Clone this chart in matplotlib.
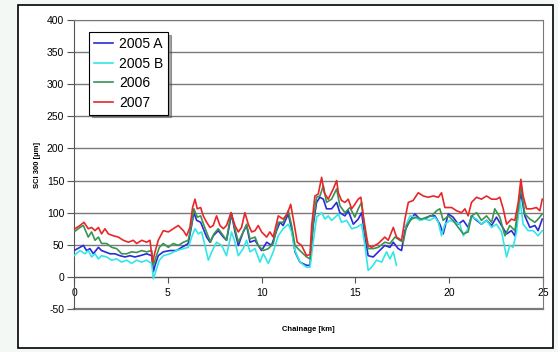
import numpy as np
import matplotlib.pyplot as plt
from matplotlib.patches import Rectangle

plt.rcParams['font.family'] = ['Liberation Sans', 'DejaVu Sans']
plt.rcParams['axes.unicode_minus'] = False

# chainage [km] and SCI 300 [µm] readings per survey
km_2005a = [0.00, 0.32, 0.50, 0.67, 0.85, 1.03, 1.30, 1.47, 1.65, 1.92, 2.18, 2.45, 2.72, 2.98,
            3.25, 3.52, 3.87, 4.14, 4.23, 4.32, 4.49, 4.76, 5.12, 5.47, 5.74, 5.92, 6.09, 6.27,
            6.39, 6.54, 6.75, 6.89, 7.07, 7.25, 7.42, 7.69, 7.96, 8.13, 8.40, 8.58, 8.76, 9.02,
            9.20, 9.38, 9.65, 9.82, 10.00, 10.27, 10.53, 10.80, 10.98, 11.15, 11.42, 11.60, 11.78,
            12.04, 12.40, 12.58, 12.75, 12.93, 13.11, 13.29, 13.46, 13.73, 14.00, 14.17, 14.44,
            14.62, 14.89, 15.15, 15.33, 15.51, 15.68, 15.95, 16.22, 16.57, 16.84, 17.02, 17.28,
            17.46, 17.64, 17.91, 18.17, 18.44, 18.70, 18.97, 19.24, 19.50, 19.68, 19.95, 20.21,
            20.48, 20.75, 21.01, 21.19, 21.46, 21.72, 21.99, 22.26, 22.52, 22.79, 23.06, 23.32,
            23.50, 23.68, 23.82, 24.03, 24.30, 24.57, 24.74, 24.96]
sci_2005a = [41, 46, 49, 41, 44, 36, 46, 41, 39, 36, 36, 33, 31, 33,
             31, 33, 36, 33, 8, 18, 33, 39, 41, 41, 46, 49, 52, 80,
             100, 88, 85, 75, 62, 54, 64, 72, 62, 57, 98, 70, 49, 70,
             80, 54, 57, 49, 41, 54, 49, 72, 85, 80, 98, 75, 39,
             23, 18, 18, 80, 116, 124, 121, 106, 106, 116, 100, 95,
             103, 82, 90, 100, 62, 33, 31, 39, 49, 46, 54, 44,
             41, 72, 88, 98, 90, 90, 95, 95, 82, 67, 98, 93,
             82, 88, 77, 95, 88, 82, 88, 80, 93, 80, 67, 72,
             64, 100, 131, 95, 77, 80, 72, 90]

km_2005b = [0.00, 0.32, 0.59, 0.76, 0.94, 1.12, 1.30, 1.47, 1.74, 2.01, 2.27, 2.54, 2.81, 3.07,
            3.34, 3.61, 3.87, 4.14, 4.23, 4.37, 4.55, 4.76, 5.12, 5.47, 5.83, 6.09, 6.27, 6.45,
            6.63, 6.80, 6.98, 7.16, 7.34, 7.60, 7.87, 8.13, 8.40, 8.58, 8.76, 9.02, 9.20, 9.38,
            9.65, 9.91, 10.09, 10.36, 10.62, 10.89, 11.15, 11.42, 11.60, 11.78, 12.04, 12.40,
            12.58, 12.75, 12.93, 13.20, 13.38, 13.55, 13.73, 14.00, 14.09, 14.26, 14.53, 14.80,
            15.06, 15.33, 15.51, 15.68, 15.86, 16.13, 16.40, 16.66, 16.84, 17.02, 17.19, 17.40,
            17.64, 17.91, 18.17, 18.44, 18.70, 18.97, 19.24, 19.42, 19.59, 19.77, 20.04, 20.30,
            20.57, 20.75, 21.01, 21.19, 21.46, 21.72, 21.99, 22.26, 22.52, 22.79, 23.06, 23.23,
            23.41, 23.59, 23.77, 23.94, 24.21, 24.48, 24.74, 24.96]
sci_2005b = [33, 41, 36, 41, 31, 36, 28, 33, 31, 26, 28, 23, 26, 21,
             26, 23, 26, 21, -3, 10, 26, 33, 36, 41, 44, 46, 62, 75,
             67, 70, 49, 26, 39, 54, 49, 33, 70, 54, 33, 44, 57, 39,
             44, 23, 36, 21, 39, 64, 75, 82, 70, 41, 23, 15,
             15, 54, 93, 100, 90, 95, 88, 95, 98, 85, 88, 75,
             77, 82, 49, 10, 15, 26, 23, 39, 28, 39, 18, np.nan,
             77, 95, 93, 88, 90, 88, 93, 85, 64, 82, 88, 85,
             82, 64, 75, 93, 90, 82, 88, 77, 82, 70, 31, 49,
             46, 70, 121, 82, 72, 72, 64, 72]

km_2006 = [0.00, 0.32, 0.50, 0.76, 0.94, 1.12, 1.30, 1.47, 1.74, 2.01, 2.27, 2.54, 2.81, 3.07,
           3.34, 3.61, 3.87, 4.14, 4.23, 4.37, 4.55, 4.76, 5.03, 5.29, 5.56, 5.83, 6.09, 6.27,
           6.39, 6.57, 6.75, 6.93, 7.10, 7.28, 7.46, 7.69, 7.96, 8.13, 8.37, 8.58, 8.76, 9.02,
           9.20, 9.38, 9.65, 9.82, 10.09, 10.36, 10.62, 10.89, 11.15, 11.42, 11.60, 11.78, 12.04,
           12.40, 12.58, 12.75, 12.93, 13.11, 13.29, 13.46, 13.73, 14.00, 14.17, 14.44, 14.71,
           14.97, 15.15, 15.33, 15.51, 15.68, 15.95, 16.22, 16.57, 16.84, 17.11, 17.37, 17.55,
           17.73, 17.99, 18.26, 18.53, 18.79, 19.06, 19.33, 19.50, 19.68, 19.95, 20.21, 20.48,
           20.75, 21.01, 21.19, 21.46, 21.72, 21.99, 22.26, 22.43, 22.70, 22.97, 23.23, 23.50,
           23.68, 23.82, 24.03, 24.30, 24.57, 24.74, 24.96]
sci_2006 = [70, 77, 80, 62, 70, 57, 62, 52, 52, 46, 44, 36, 36, 39,
            38, 41, 39, 41, 18, 31, 46, 52, 46, 52, 49, 54, 57, 82,
            106, 93, 95, 80, 67, 54, 67, 75, 64, 57, 100, 75, 54, 70,
            82, 59, 62, 49, 41, 44, 52, 85, 85, 103, 80, 49, 41,
            31, 28, 85, 124, 126, 142, 116, 121, 137, 111, 100, 108,
            93, 106, 116, 70, 44, 44, 46, 54, 52, 62, 57, 54,
            80, 90, 93, 90, 93, 95, 103, 106, 88, 95, 88, 77,
            67, 70, 95, 100, 88, 95, 85, 106, 93, 64, 80, 72,
            106, 142, 98, 90, 85, 90, 98]

km_2007 = [0.05, 0.32, 0.53, 0.76, 0.94, 1.12, 1.30, 1.47, 1.65, 1.83, 2.10, 2.36, 2.63, 2.90,
           3.16, 3.34, 3.61, 3.87, 4.05, 4.19, 4.32, 4.49, 4.76, 5.03, 5.29, 5.56, 5.83, 6.00,
           6.18, 6.32, 6.45, 6.57, 6.75, 6.89, 7.07, 7.25, 7.42, 7.60, 7.78, 7.96, 8.13, 8.37,
           8.58, 8.76, 8.93, 9.11, 9.29, 9.47, 9.65, 9.82, 10.00, 10.27, 10.44, 10.62, 10.89,
           11.15, 11.37, 11.55, 11.72, 11.90, 12.13, 12.40, 12.58, 12.67, 12.84, 13.02, 13.20,
           13.34, 13.55, 13.82, 14.00, 14.09, 14.26, 14.44, 14.62, 14.80, 14.97, 15.15, 15.29,
           15.42, 15.60, 15.68, 15.86, 16.22, 16.57, 16.75, 17.02, 17.19, 17.46, 17.64, 17.82,
           18.08, 18.35, 18.62, 18.88, 19.15, 19.42, 19.59, 19.77, 20.13, 20.39, 20.66, 20.84,
           21.01, 21.19, 21.46, 21.72, 21.99, 22.26, 22.52, 22.70, 22.88, 23.06, 23.32, 23.50,
           23.68, 23.82, 23.94, 24.12, 24.39, 24.65, 24.83, 24.96]
sci_2007 = [75, 80, 85, 75, 77, 72, 77, 67, 75, 67, 64, 62, 57, 54,
            57, 52, 57, 54, 57, 23, 39, 57, 72, 70, 75, 80, 72, 64,
            77, 108, 121, 106, 108, 95, 85, 77, 80, 95, 80, 75, 80, 100,
            80, 70, 77, 100, 82, 70, 72, 80, 70, 62, 70, 62, 95,
            90, 98, 113, 85, 54, 49, 33, 35, 80, 126, 129, 155,
            131, 121, 137, 150, 131, 119, 116, 121, 106, 113, 121, 124,
            95, 62, 49, 46, 52, 62, 57, 77, 62, 57, 90, 116,
            119, 131, 126, 124, 126, 124, 131, 108, 108, 103, 100, 106,
            95, 116, 124, 121, 126, 121, 121, 124, 106, 82, 90, 88,
            116, 152, 126, 106, 106, 108, 103, 121]

labels = ['2005 A', '2005 B', '2006', '2007']
colors = ['#2a2ad8', '#33e6e6', '#3a9450', '#e8262a']
y_ticks = list(range(-50, 401, 50))
x_ticks = [0, 5, 10, 15, 20, 25]

fig = plt.figure(figsize=(5.58, 3.52), dpi=100)
fig.patch.set_facecolor('#f4f8f4')

# outer chart frame, kept behind the axes
fig.patches.append(Rectangle((18 / 558, 4 / 352), 535 / 558, 343 / 352,
                             transform=fig.transFigure, facecolor='white',
                             edgecolor='black', lw=1.2, zorder=-10))

ax = fig.add_axes([74 / 558, 1 - 309 / 352, 469 / 558, 289 / 352])
ax.patch.set_alpha(0)

series = [(km_2005a, sci_2005a), (km_2005b, sci_2005b), (km_2006, sci_2006), (km_2007, sci_2007)]
for (x, y), lab, c in zip(series, labels, colors):
    ax.plot(x, y, color=c, lw=1.2, label=lab, zorder=3)

ax.set_xlim(0, 25)
ax.set_ylim(-50, 400)
ax.set_yticks(y_ticks)
ax.set_xticks(x_ticks)
ax.yaxis.grid(True, color='#7a7a7a', lw=1.0, zorder=1)
ax.set_axisbelow(True)

ax.spines['bottom'].set_position(('data', 0))
ax.spines['bottom'].set_color('#555555')
ax.spines['left'].set_color('#555555')
ax.spines['top'].set_color('#7a7a7a')
ax.spines['right'].set_color('#7a7a7a')
ax.axhline(-50, color='#7a7a7a', lw=1.6, zorder=2, clip_on=False)

ax.tick_params(axis='y', direction='out', length=5, width=0.8, color='#555555',
               labelsize=7.5, pad=2)
ax.tick_params(axis='x', direction='out', length=4, width=0.8, color='#555555',
               labelsize=7.5, pad=4)

ax.set_ylabel('SCI 300 [µm]', fontsize=5.5, fontweight='bold', labelpad=4)
ax.set_xlabel('Chainage [km]', fontsize=5.5, fontweight='bold')
ax.xaxis.set_label_coords(0.5, -0.06)

leg = ax.legend(loc='upper left', bbox_to_anchor=(0.032, 0.958), borderaxespad=0,
                fontsize=10, frameon=True, fancybox=False, shadow=True,
                edgecolor='black', framealpha=1, labelspacing=0.4,
                handlelength=1.4, handletextpad=0.4, borderpad=0.35)
leg.get_frame().set_linewidth(0.8)

fig.savefig('out.png', dpi=100, facecolor=fig.get_facecolor())
